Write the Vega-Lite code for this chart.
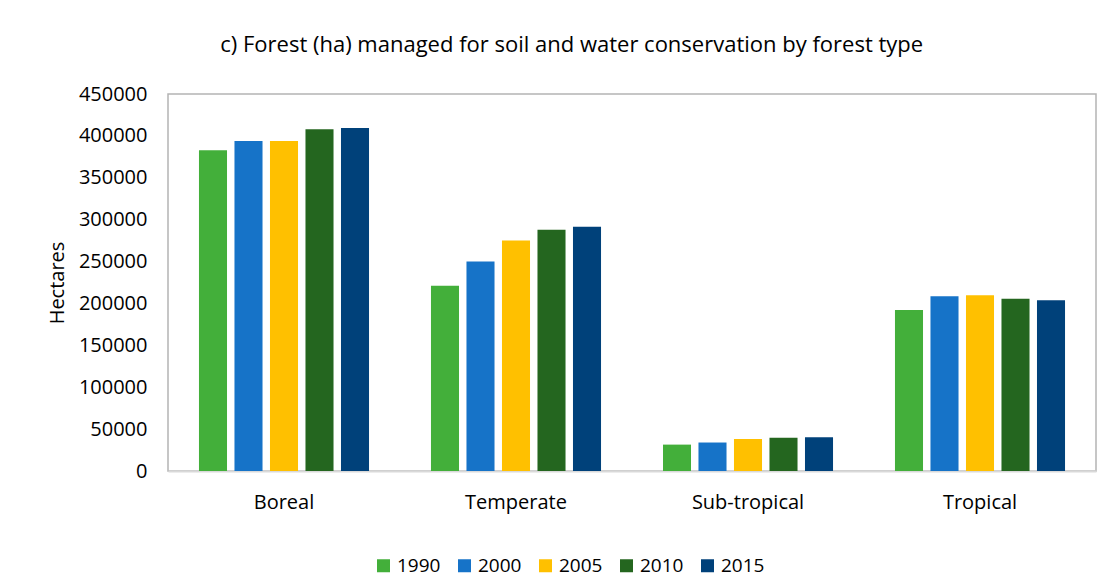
{
  "$schema": "https://vega.github.io/schema/vega-lite/v6.json",
  "width": 928,
  "height": 377,
  "autosize": {"type": "none"},
  "padding": {"left": 168, "top": 94, "right": 13, "bottom": 107},
  "background": "white",
  "title": {
    "text": "c) Forest (ha) managed for soil and water conservation by forest type",
    "anchor": "middle",
    "frame": "bounds",
    "font": "Open Sans",
    "fontSize": 22,
    "fontWeight": "normal",
    "color": "#000000",
    "offset": 27
  },
  "data": {
    "values": [
      {"type": "Boreal", "year": "1990", "ha": 383000},
      {"type": "Boreal", "year": "2000", "ha": 394000},
      {"type": "Boreal", "year": "2005", "ha": 394000},
      {"type": "Boreal", "year": "2010", "ha": 408000},
      {"type": "Boreal", "year": "2015", "ha": 409500},
      {"type": "Temperate", "year": "1990", "ha": 221000},
      {"type": "Temperate", "year": "2000", "ha": 250000},
      {"type": "Temperate", "year": "2005", "ha": 275000},
      {"type": "Temperate", "year": "2010", "ha": 288000},
      {"type": "Temperate", "year": "2015", "ha": 291500},
      {"type": "Sub-tropical", "year": "1990", "ha": 31500},
      {"type": "Sub-tropical", "year": "2000", "ha": 34000},
      {"type": "Sub-tropical", "year": "2005", "ha": 38300},
      {"type": "Sub-tropical", "year": "2010", "ha": 39800},
      {"type": "Sub-tropical", "year": "2015", "ha": 40300},
      {"type": "Tropical", "year": "1990", "ha": 192200},
      {"type": "Tropical", "year": "2000", "ha": 208600},
      {"type": "Tropical", "year": "2005", "ha": 209800},
      {"type": "Tropical", "year": "2010", "ha": 205700},
      {"type": "Tropical", "year": "2015", "ha": 203800}
    ]
  },
  "mark": {"type": "bar"},
  "encoding": {
    "x": {
      "field": "type",
      "type": "nominal",
      "sort": ["Boreal", "Temperate", "Sub-tropical", "Tropical"],
      "scale": {"paddingInner": 0.267, "paddingOuter": 0.1335},
      "axis": {
        "title": null,
        "labelAngle": 0,
        "labelFont": "Open Sans",
        "labelFontSize": 20,
        "labelColor": "#000000",
        "labelPadding": 21,
        "ticks": false,
        "domainColor": "#d9d9d9",
        "domainWidth": 2
      }
    },
    "xOffset": {
      "field": "year",
      "type": "nominal",
      "scale": {"paddingInner": 0.21, "paddingOuter": 0}
    },
    "y": {
      "field": "ha",
      "type": "quantitative",
      "scale": {"domain": [0, 450000]},
      "axis": {
        "title": "Hectares",
        "titleFont": "Open Sans",
        "titleFontSize": 20,
        "titleFontWeight": "normal",
        "titleColor": "#000000",
        "titlePadding": 11,
        "values": [0, 50000, 100000, 150000, 200000, 250000, 300000, 350000, 400000, 450000],
        "format": "d",
        "labelFont": "Open Sans",
        "labelFontSize": 20,
        "labelColor": "#000000",
        "labelPadding": 21,
        "ticks": false,
        "domain": false,
        "grid": false
      }
    },
    "color": {
      "field": "year",
      "type": "nominal",
      "scale": {
        "domain": ["1990", "2000", "2005", "2010", "2015"],
        "range": ["#43AF3A", "#1673C8", "#FFC000", "#24661F", "#00417A"]
      },
      "legend": {
        "title": null,
        "orient": "none",
        "direction": "horizontal",
        "legendX": 206,
        "legendY": 462,
        "symbolType": "square",
        "symbolSize": 169,
        "symbolStrokeWidth": 0,
        "labelFont": "Open Sans",
        "labelFontSize": 19,
        "labelColor": "#000000",
        "labelOffset": 4,
        "columnPadding": 14
      }
    }
  },
  "config": {
    "view": {"stroke": "#b4b4b4", "strokeWidth": 1.5}
  }
}
